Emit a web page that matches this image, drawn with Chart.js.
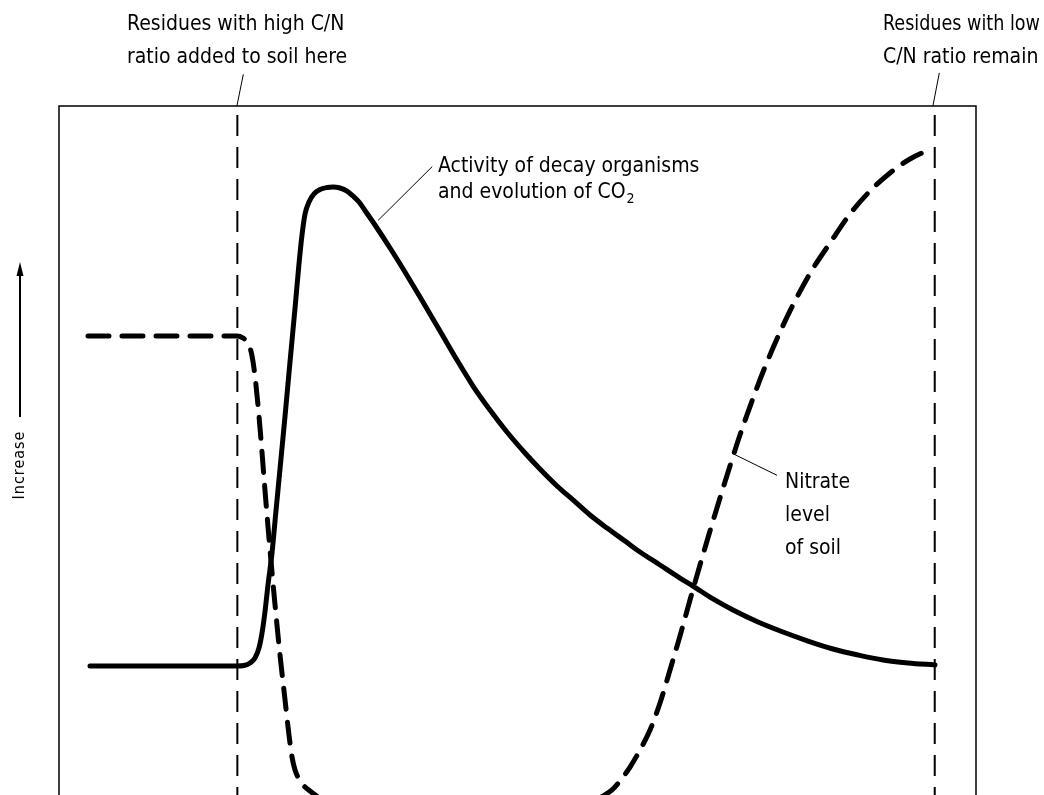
<!DOCTYPE html>
<html>
<head>
<meta charset="utf-8">
<title>Decay activity and soil nitrate after adding residues</title>
<script src="https://cdn.jsdelivr.net/npm/chart.js@4.4.1/dist/chart.umd.min.js"></script>
<style>
  html, body { margin: 0; padding: 0; background: #fff; }
  canvas { display: block; }
</style>
</head>
<body>
<canvas id="myChart" width="1044" height="795"></canvas>
<script>
// Time runs 0-100 across the frame, level runs 0-100 from bottom to frame top

// Activity of decay organisms / CO2 evolution (solid)
const activityX = [3.38, 19.41, 20.17, 20.83, 21.37, 21.81, 22.14, 22.46, 22.79, 23.23, 23.66, 24.10, 24.65, 25.19, 25.74, 26.17, 26.50, 26.83, 27.26, 27.81, 28.46, 29.23, 29.88, 30.64, 31.41, 32.06, 32.72, 33.48, 34.46, 36.10, 37.73, 39.37, 41.55, 43.40, 45.15, 47.00, 48.85, 50.82, 52.45, 54.31, 56.05, 57.91, 59.76, 61.72, 63.36, 65.54, 67.72, 69.14, 71.32, 73.50, 76.23, 78.95, 81.68, 84.41, 87.13, 89.86, 92.58, 95.53];
const activityY = [18.72, 18.72, 18.80, 19.16, 19.88, 21.34, 23.51, 26.56, 30.48, 35.12, 41.22, 47.31, 55.01, 62.84, 70.68, 77.07, 81.28, 84.33, 86.07, 87.23, 87.88, 88.17, 88.24, 88.10, 87.66, 86.94, 86.07, 84.62, 82.73, 79.39, 75.91, 72.28, 67.34, 63.13, 59.36, 55.88, 52.69, 49.64, 47.31, 44.85, 42.82, 40.64, 38.75, 36.86, 35.27, 33.38, 31.49, 30.33, 28.45, 26.85, 25.11, 23.66, 22.35, 21.19, 20.32, 19.59, 19.16, 18.87];

// Nitrate level of soil (dashed) - dips just below the bottom edge
const nitrateX = [3.16, 19.41, 20.07, 20.50, 20.83, 21.05, 21.26, 21.48, 21.70, 22.03, 22.46, 23.01, 23.56, 24.10, 24.65, 25.08, 25.41, 25.74, 26.17, 26.72, 27.37, 28.24, 29.55, 31.73, 43.73, 56.27, 58.12, 59.32, 60.31, 61.18, 62.27, 63.36, 64.45, 65.54, 66.63, 67.72, 68.81, 69.90, 70.99, 72.08, 73.17, 74.26, 75.57, 76.99, 78.63, 80.26, 82.12, 84.08, 86.26, 88.44, 90.62, 92.80, 95.31];
const nitrateY = [66.62, 66.62, 66.33, 65.75, 64.88, 63.72, 61.97, 59.51, 56.60, 51.52, 44.27, 35.56, 27.58, 20.32, 13.79, 8.71, 5.52, 3.63, 2.32, 1.31, 0.58, -0.29, -1.31, -2.18, -2.90, -1.89, -1.02, -0.15, 0.73, 2.03, 4.06, 6.53, 9.43, 13.35, 18.14, 23.08, 28.30, 33.38, 38.32, 43.11, 47.75, 52.25, 57.18, 62.12, 67.20, 71.70, 76.20, 80.12, 84.33, 87.66, 90.28, 92.31, 93.90];

// Moments marked with thin dashed verticals
const markerX = [19.45, 95.5];
const markerTop = 98.7;

// Leader lines [x1, y1, x2, y2]
const leaders = [
  [19.4, 100, 20.1, 104.6],
  [95.3, 100, 96.0, 104.8],
  [34.8, 83.4, 40.7, 91.2],
  [73.7, 49.4, 78.3, 46.4]
];

// Annotation text: [text, left, baseline, max width]
const notes = [
  ['Residues with high C/N', 127, 30],
  ['ratio added to soil here', 127, 63],
  ['Residues with low', 883, 30, 157],
  ['C/N ratio remain', 883, 63],
  ['Activity of decay organisms', 438, 172],
  ['Nitrate', 785, 488],
  ['level', 785, 521],
  ['of soil', 785, 554]
];
const co2Line = ['and evolution of CO', 438, 198];
const yLabel = 'Increase';

const FONT = "'Liberation Sans Narrow', 'DejaVu Sans Condensed', sans-serif";

function pts(xs, ys) {
  return xs.map((x, i) => ({ x: x, y: ys[i] }));
}

const datasets = [
  {
    label: 'Activity of decay organisms and evolution of CO2',
    data: pts(activityX, activityY),
    borderColor: '#000',
    borderWidth: 5,
    cubicInterpolationMode: 'monotone',
    borderCapStyle: 'round',
    borderJoinStyle: 'round'
  },
  {
    label: 'Nitrate level of soil',
    data: pts(nitrateX, nitrateY),
    borderColor: '#000',
    borderWidth: 5,
    borderDash: [21, 13],
    borderCapStyle: 'round',
    cubicInterpolationMode: 'monotone'
  }
];

markerX.forEach(x => {
  datasets.push({
    label: 'marker',
    data: [{ x: x, y: markerTop }, { x: x, y: 0 }],
    borderColor: '#000',
    borderWidth: 2,
    borderDash: [21, 11]
  });
});

leaders.forEach(l => {
  datasets.push({
    label: 'leader',
    data: [{ x: l[0], y: l[1] }, { x: l[2], y: l[3] }],
    borderColor: '#000',
    borderWidth: 1,
    clip: false
  });
});

// frame, labels and the Increase arrow
const decorations = {
  id: 'decorations',
  beforeDatasetsDraw(chart) {
    const { ctx, chartArea: a } = chart;
    ctx.save();
    ctx.strokeStyle = '#000';
    ctx.lineWidth = 1.5;
    ctx.beginPath();
    ctx.moveTo(a.left, a.bottom + 2);
    ctx.lineTo(a.left, a.top);
    ctx.lineTo(a.right, a.top);
    ctx.lineTo(a.right, a.bottom + 2);
    ctx.stroke();
    ctx.restore();
  },
  afterDraw(chart) {
    const ctx = chart.ctx;
    ctx.save();
    ctx.fillStyle = '#000';
    ctx.textBaseline = 'alphabetic';
    ctx.textAlign = 'left';
    ctx.font = '21px ' + FONT;
    notes.forEach(n => {
      if (n[3]) ctx.fillText(n[0], n[1], n[2], n[3]);
      else ctx.fillText(n[0], n[1], n[2]);
    });

    // CO2 with subscript
    ctx.fillText(co2Line[0], co2Line[1], co2Line[2]);
    const w = ctx.measureText(co2Line[0]).width;
    ctx.font = '14px ' + FONT;
    ctx.fillText('2', co2Line[1] + w + 1, co2Line[2] + 5);

    // y label and arrow
    ctx.translate(20, 465);
    ctx.rotate(-Math.PI / 2);
    ctx.font = '16px ' + FONT;
    ctx.letterSpacing = '1px';
    ctx.textAlign = 'center';
    ctx.textBaseline = 'middle';
    ctx.fillText(yLabel, 0, 0);
    ctx.restore();

    ctx.save();
    ctx.strokeStyle = '#000';
    ctx.lineWidth = 2;
    ctx.beginPath();
    ctx.moveTo(20, 417);
    ctx.lineTo(20, 270);
    ctx.stroke();
    ctx.beginPath();
    ctx.moveTo(20, 262);
    ctx.lineTo(16.5, 276);
    ctx.lineTo(23.5, 276);
    ctx.closePath();
    ctx.fill();
    ctx.restore();
  }
};

const config = {
  type: 'line',
  data: { datasets },
  options: {
    responsive: false,
    animation: false,
    events: [],
    layout: { padding: { left: 59, right: 68, top: 106, bottom: 0 } },
    elements: { point: { radius: 0 } },
    scales: {
      x: { type: 'linear', min: 0, max: 100, display: false },
      y: { type: 'linear', min: 0, max: 100, display: false }
    },
    plugins: {
      legend: { display: false },
      tooltip: { enabled: false }
    }
  },
  plugins: [decorations]
};

const myChart = new Chart(document.getElementById('myChart'), config);
</script>
</body>
</html>
